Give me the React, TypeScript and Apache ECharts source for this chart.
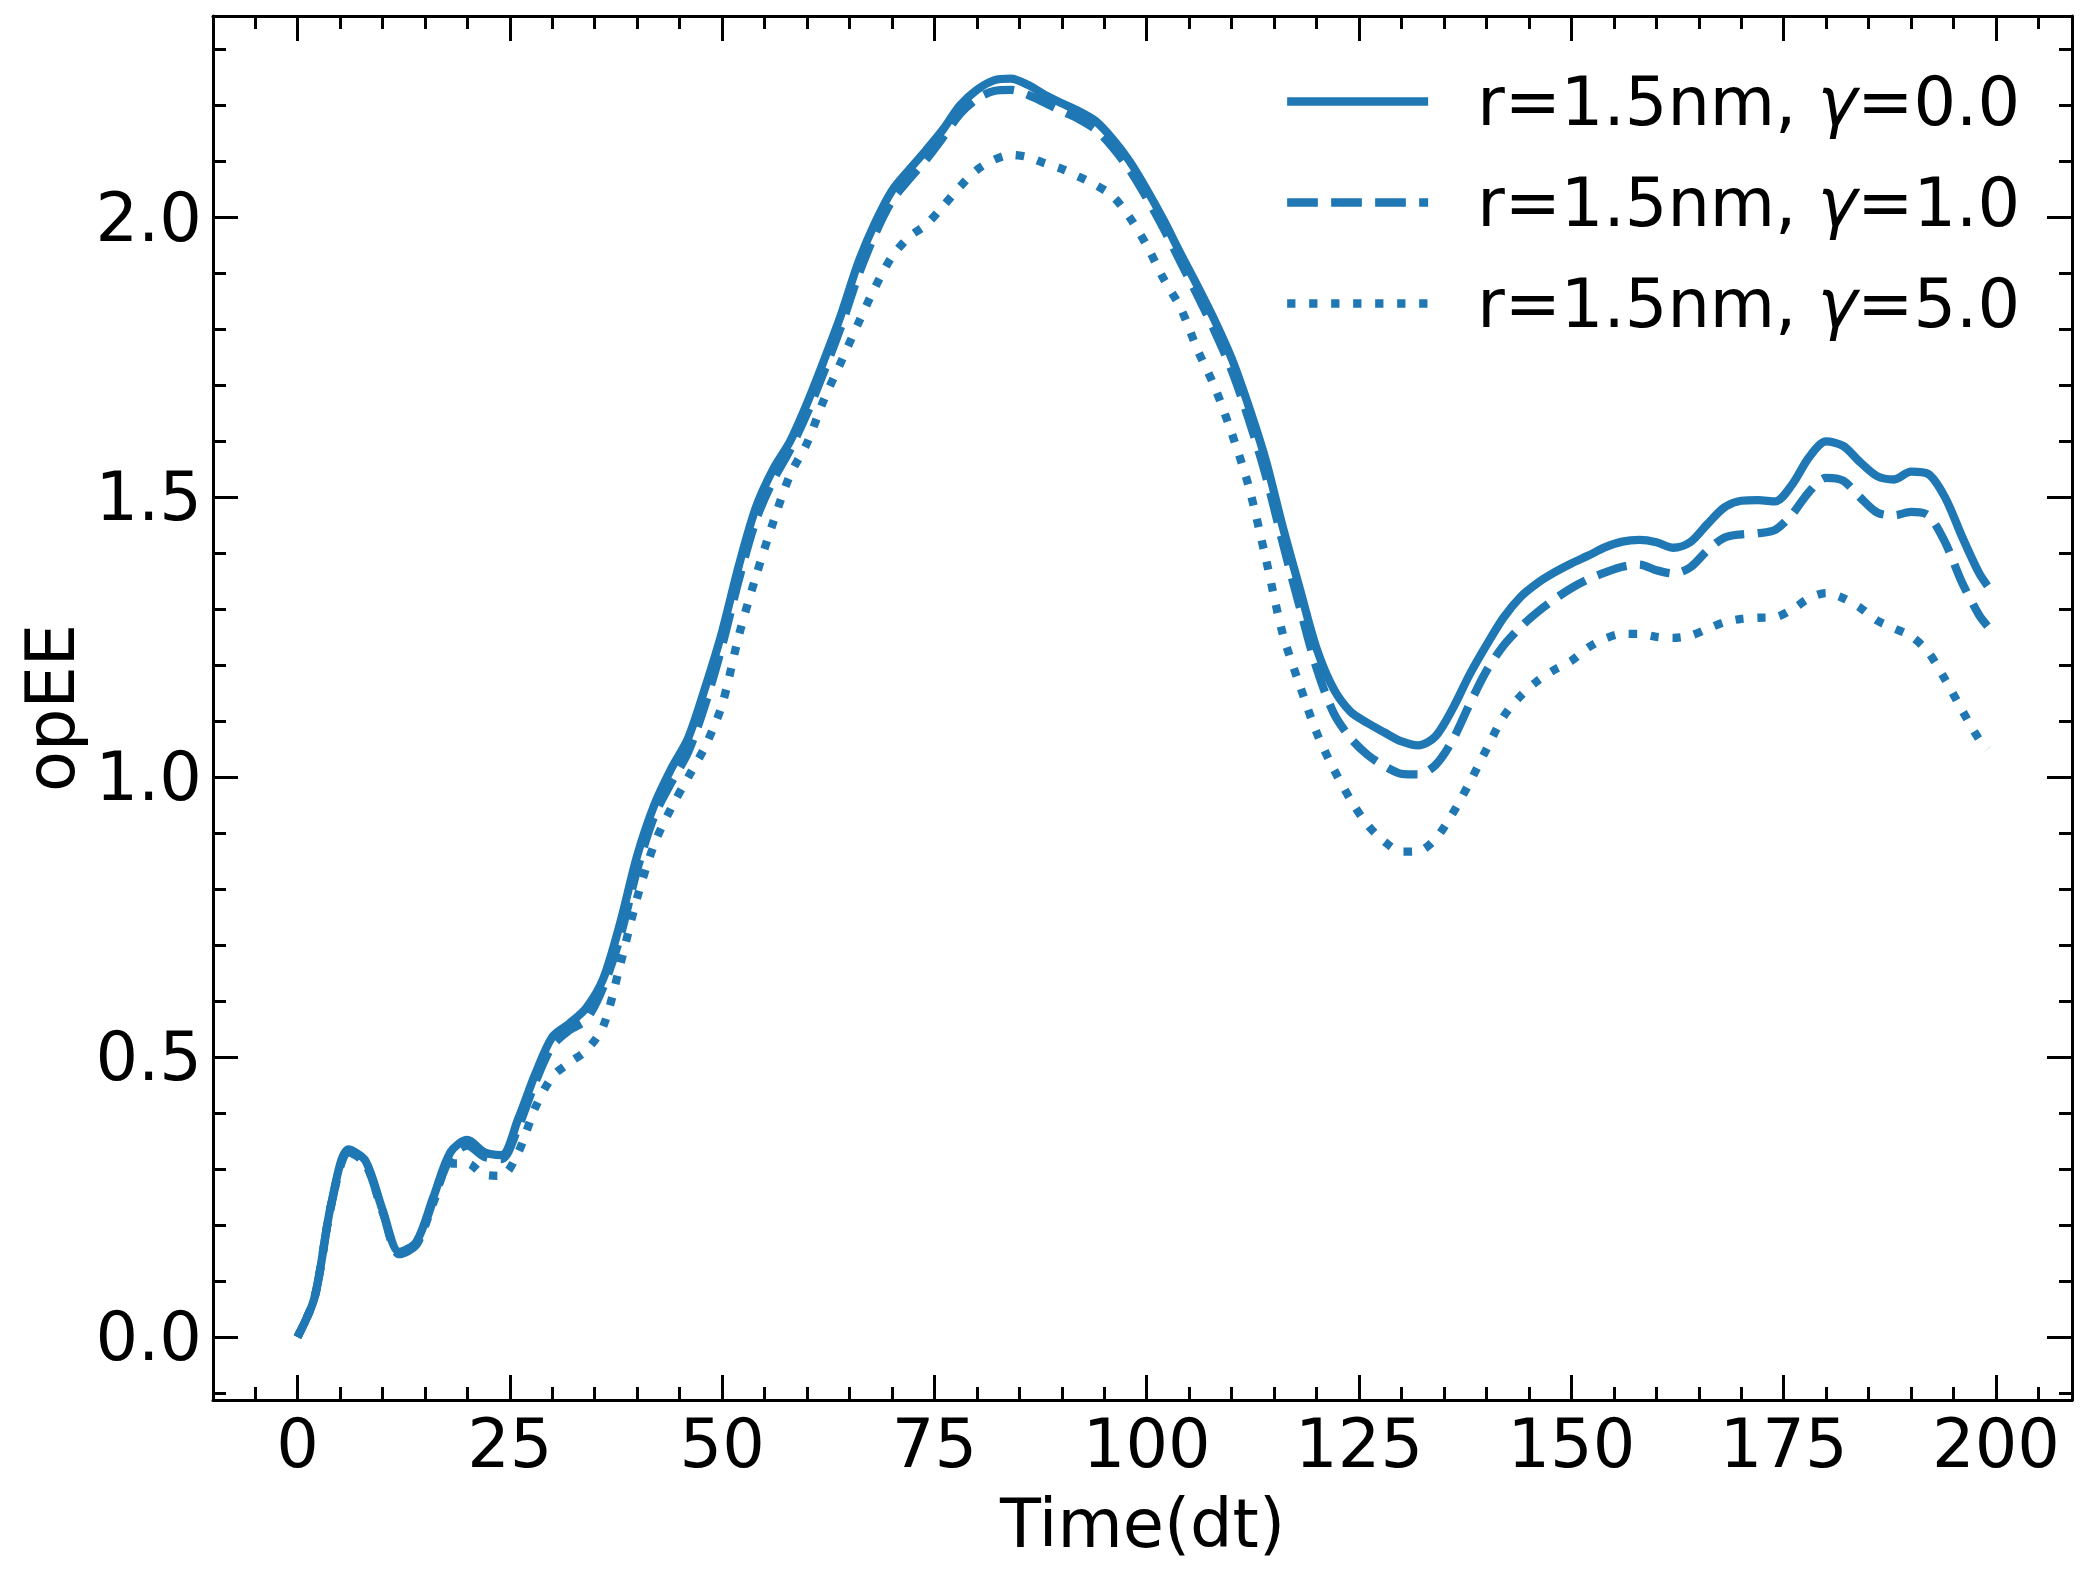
import React, { useEffect, useRef } from "react";
import * as echarts from "echarts";

const timeSteps = [
  0, 2, 4, 6, 8, 10, 12, 14, 16, 18,
  20, 22, 24, 26, 28, 30, 32, 34, 36, 38,
  40, 42, 44, 46, 48, 50, 52, 54, 56, 58,
  60, 62, 64, 66, 68, 70, 72, 74, 76, 78,
  80, 82, 84, 86, 88, 90, 92, 94, 96, 98,
  100, 102, 104, 106, 108, 110, 112, 114, 116, 118,
  120, 122, 124, 126, 128, 130, 132, 134, 136, 138,
  140, 142, 144, 146, 148, 150, 152, 154, 156, 158,
  160, 162, 164, 166, 168, 170, 172, 174, 176, 178,
  180, 182, 184, 186, 188, 190, 192, 194, 196, 198,
  199,
];

const opeeGamma0 = [
  0.0, 0.07, 0.24, 0.335, 0.315, 0.228, 0.152, 0.17, 0.25, 0.33,
  0.352, 0.33, 0.325, 0.39, 0.47, 0.536, 0.56, 0.588, 0.64, 0.74,
  0.86, 0.95, 1.015, 1.07, 1.16, 1.26, 1.38, 1.483, 1.55, 1.6,
  1.668, 1.745, 1.826, 1.918, 1.99, 2.048, 2.085, 2.12, 2.157, 2.2,
  2.228, 2.245, 2.248, 2.237, 2.219, 2.204, 2.19, 2.172, 2.14, 2.1,
  2.05, 1.995, 1.935, 1.877, 1.816, 1.748, 1.663, 1.567, 1.448, 1.338,
  1.23, 1.158, 1.117, 1.097, 1.08, 1.064, 1.057, 1.073, 1.122, 1.183,
  1.236, 1.285, 1.322, 1.347, 1.366, 1.382, 1.396, 1.411, 1.421, 1.424,
  1.42, 1.41, 1.42, 1.452, 1.482, 1.494, 1.495, 1.493, 1.523, 1.572,
  1.6, 1.592, 1.563, 1.538, 1.532, 1.546, 1.542, 1.5, 1.43, 1.365,
  1.342,
];

const opeeGamma1 = [
  0.0, 0.07, 0.238, 0.33, 0.31, 0.225, 0.148, 0.165, 0.245, 0.32,
  0.342, 0.322, 0.318, 0.375, 0.455, 0.52, 0.548, 0.567, 0.625, 0.715,
  0.835, 0.93, 0.99, 1.045, 1.13, 1.235, 1.355, 1.46, 1.53, 1.585,
  1.65, 1.725, 1.805, 1.895, 1.97, 2.03, 2.068, 2.103, 2.143, 2.185,
  2.212, 2.226, 2.228, 2.219, 2.205, 2.19, 2.176, 2.157, 2.125, 2.085,
  2.035, 1.98, 1.92, 1.86, 1.797, 1.727, 1.64, 1.54, 1.42, 1.305,
  1.195, 1.115, 1.07, 1.04, 1.02, 1.006, 1.005, 1.022, 1.066, 1.13,
  1.19, 1.235, 1.268, 1.295, 1.318, 1.338, 1.354, 1.366, 1.376, 1.38,
  1.37, 1.364, 1.375, 1.405, 1.428, 1.434, 1.436, 1.442, 1.47, 1.51,
  1.535, 1.53, 1.5, 1.473, 1.468, 1.474, 1.468, 1.42, 1.348, 1.29,
  1.27,
];

const opeeGamma5 = [
  0.0, 0.07, 0.238, 0.33, 0.31, 0.225, 0.15, 0.165, 0.24, 0.31,
  0.31, 0.29, 0.288, 0.33, 0.41, 0.465, 0.49, 0.512, 0.555, 0.665,
  0.785, 0.88, 0.945, 1.0, 1.055, 1.13, 1.255, 1.36, 1.455, 1.54,
  1.597, 1.675, 1.742, 1.81, 1.875, 1.93, 1.965, 1.987, 2.02, 2.055,
  2.085, 2.103, 2.112, 2.108, 2.097, 2.087, 2.073, 2.058, 2.038, 2.0,
  1.95, 1.89, 1.838, 1.763, 1.697, 1.615, 1.52, 1.392, 1.257, 1.165,
  1.08, 1.015, 0.96, 0.915, 0.885, 0.867, 0.868, 0.89, 0.935, 0.99,
  1.05, 1.108, 1.145, 1.172, 1.192, 1.208, 1.232, 1.248, 1.256, 1.256,
  1.251, 1.249, 1.253, 1.265, 1.277, 1.283, 1.285, 1.286, 1.3, 1.32,
  1.329, 1.32, 1.303, 1.28, 1.266, 1.252, 1.224, 1.175, 1.12, 1.068,
  1.05,
];

const seriesNames = ["r=1.5nm, γ=0.0", "r=1.5nm, γ=1.0", "r=1.5nm, γ=5.0"];
const xAxisTitle = "Time(dt)";
const yAxisTitle = "opEE";

const FONT = "DejaVu Sans";
const BLUE = "#1f77b4";
const LW = 8.3;

export default function App() {
  const ref = useRef<HTMLDivElement | null>(null);

  useEffect(() => {
    document.body.style.margin = "0";
    if (!ref.current) return;
    const chart = echarts.init(ref.current, undefined, { renderer: "svg" });

    const xMin = -9.95;
    const xMax = 208.95;
    const yMin = -0.1125;
    const yMax = 2.36;

    const tickCommon = {
      axisLine: { show: true, onZero: false, lineStyle: { color: "#000", width: 3 } },
      axisTick: { show: true, inside: true, length: 25, lineStyle: { color: "#000", width: 3 } },
      minorTick: { show: true, splitNumber: 5, length: 13, lineStyle: { color: "#000", width: 3 } },
      splitLine: { show: false },
      minorSplitLine: { show: false },
    };

    const labelStyle = {
      fontFamily: FONT,
      fontSize: 67,
      lineHeight: 67,
      color: "#000",
      showMinLabel: false,
      showMaxLabel: false,
    };

    const mk = (name: string, values: number[], lineType: any, z: number) => ({
      name,
      type: "line",
      data: timeSteps.map((t, i) => [t, values[i]]),
      showSymbol: false,
      symbol: "none",
      smooth: 0.3,
      z,
      lineStyle: { color: BLUE, width: LW, type: lineType, cap: "butt", join: "round" },
      itemStyle: { color: BLUE },
      emphasis: { disabled: true },
    });

    const option: any = {
      animation: false,
      backgroundColor: "#fff",
      textStyle: { fontFamily: FONT },
      grid: {
        left: 213,
        right: 16,
        top: 16,
        bottom: 175,
        containLabel: false,
        outerBoundsMode: "none",
      },
      xAxis: [
        {
          type: "value",
          position: "bottom",
          min: xMin,
          max: xMax,
          minInterval: 25,
          maxInterval: 25,
          ...tickCommon,
          axisLabel: { ...labelStyle, margin: 10, formatter: (v: number) => String(Math.round(v)) },
          name: xAxisTitle,
          nameLocation: "middle",
          nameGap: 90,
          nameTextStyle: { fontFamily: FONT, fontSize: 67, lineHeight: 67, color: "#000" },
        },
        {
          type: "value",
          position: "top",
          min: xMin,
          max: xMax,
          minInterval: 25,
          maxInterval: 25,
          ...tickCommon,
          axisLabel: { show: false },
        },
      ],
      yAxis: [
        {
          type: "value",
          position: "left",
          min: yMin,
          max: yMax,
          minInterval: 0.5,
          maxInterval: 0.5,
          ...tickCommon,
          axisLabel: { ...labelStyle, margin: 11, formatter: (v: number) => v.toFixed(1) },
          name: yAxisTitle,
          nameLocation: "middle",
          nameGap: 124,
          nameTextStyle: { fontFamily: FONT, fontSize: 67, lineHeight: 67, color: "#000" },
        },
        {
          type: "value",
          position: "right",
          min: yMin,
          max: yMax,
          minInterval: 0.5,
          maxInterval: 0.5,
          ...tickCommon,
          axisLabel: { show: false },
        },
      ],
      legend: {
        show: true,
        orient: "vertical",
        left: 1283,
        top: 68,
        padding: 0,
        itemGap: 34,
        itemWidth: 141,
        itemHeight: 1,
        selectedMode: false,
        data: seriesNames,
        lineStyle: { width: LW },
        itemStyle: { opacity: 0 },
        formatter: (name: string) => {
          const parts = name.split("γ");
          return `{sp| }{a|${parts[0]}}{g|γ}{a|${parts[1]}}`;
        },
        textStyle: {
          fontFamily: FONT,
          fontSize: 67,
          lineHeight: 67,
          color: "#000",
          rich: {
            sp: { width: 44, fontSize: 67, lineHeight: 67 },
            a: { fontFamily: FONT, fontSize: 67, lineHeight: 67, color: "#000" },
            g: { fontFamily: FONT, fontStyle: "italic", fontSize: 67, lineHeight: 67, color: "#000" },
          },
        },
      },
      series: [
        mk(seriesNames[0], opeeGamma0, "solid", 2),
        mk(seriesNames[1], opeeGamma1, [30.7, 13.3], 3),
        mk(seriesNames[2], opeeGamma5, [8.3, 13.7], 4),
      ],
    };

    chart.setOption(option);
    return () => {
      chart.dispose();
    };
  }, []);

  return <div ref={ref} style={{ width: 2088, height: 1575 }} />;
}
